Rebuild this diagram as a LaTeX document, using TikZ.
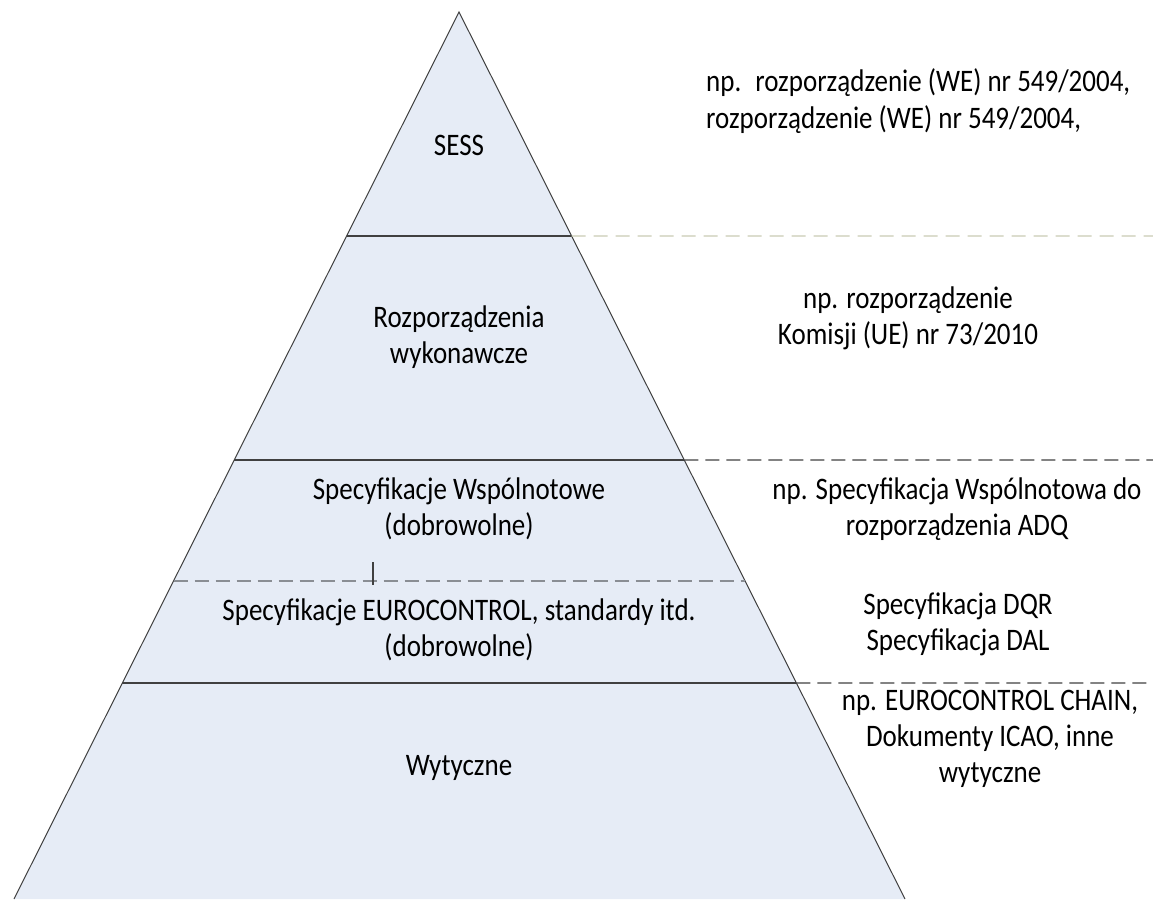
\documentclass[tikz,border=0pt]{standalone}
\usepackage{fontspec}
\setmainfont{Carlito}
\usetikzlibrary{calc}
\definecolor{pyrfill}{HTML}{E6ECF6}
\definecolor{edgecol}{HTML}{404040}
\definecolor{lightdash}{HTML}{C9CBB4}
\definecolor{greydash}{HTML}{8A8E94}
\tikzset{
  lbl/.style={align=center, inner sep=0pt, yscale=1.16, transform shape, font=\fontsize{27}{31.2}\selectfont},
  lblL/.style={align=left, inner sep=0pt, anchor=west, yscale=1.16, transform shape, font=\fontsize{27}{31.2}\selectfont},
  tier/.style={draw=edgecol, line width=1.4pt},
  darkdash/.style={draw=edgecol, line width=1.4pt, dash pattern=on 14pt off 7pt},
  palecut/.style={draw=lightdash, line width=1.4pt, dash pattern=on 14pt off 8pt},
  greycut/.style={draw=greydash, line width=1.4pt, dash pattern=on 14pt off 7pt},
}
\begin{document}
\begin{tikzpicture}[x=1pt,y=-1pt]
\useasboundingbox (0,0) rectangle (1153,899);
\coordinate (apex) at (459,12);
\coordinate (bl) at (14,899);
\coordinate (br) at (905,899);
\fill[pyrfill] (apex) -- (bl) -- (br) -- cycle;
\draw[edgecol, line width=1pt] (bl) -- (apex) -- (br);
% tier boundaries
\coordinate (l1) at ($(apex)!0.2525!(bl)$); \coordinate (r1) at ($(apex)!0.2525!(br)$);
\coordinate (l2) at ($(apex)!0.5051!(bl)$); \coordinate (r2) at ($(apex)!0.5051!(br)$);
\coordinate (l3) at ($(apex)!0.6415!(bl)$); \coordinate (r3) at ($(apex)!0.6415!(br)$);
\coordinate (l4) at ($(apex)!0.7565!(bl)$); \coordinate (r4) at ($(apex)!0.7565!(br)$);
\coordinate (e1) at (1153,236);
\coordinate (e2) at (1153,460);
\coordinate (e4) at (1153,683);
\draw[tier] (l1) -- (r1);
\draw[palecut] (r1) -- (e1);
\draw[tier] (l2) -- (r2);
\draw[darkdash] (r2) -- (e2);
\draw[greycut] (l3) -- (r3);
\draw[tier] (l4) -- (r4);
\draw[darkdash] (r4) -- (e4);
% short tick
\coordinate (tickTop) at (373,562);
\coordinate (tickBot) at (373,585);
\draw[edgecol, line width=1.2pt] (tickTop) -- (tickBot);
% pyramid labels
\node[lbl] (sess) at (459,145) {SESS};
\node[lbl] (rozp) at (459,337) {Rozporządzenia\\wykonawcze};
\node[lbl] (specw) at (459,509) {Specyfikacje Wspólnotowe\\(dobrowolne)};
\node[lbl] (spece) at (459,630) {Specyfikacje EUROCONTROL, standardy itd.\\(dobrowolne)};
\node[lbl] (wyt) at (459,768) {Wytyczne};
% right labels
\node[lblL] (ex1) at (706,101) {np.\hspace{14pt}rozporządzenie (WE) nr 549/2004,\\rozporządzenie (WE) nr 549/2004,};
\node[lbl] (ex2) at (908,318) {np. rozporządzenie\\Komisji (UE) nr 73/2010};
\node[lbl] (ex3) at (957,509) {np. Specyfikacja Wspólnotowa do\\rozporządzenia ADQ};
\node[lbl] (ex4) at (958,624) {Specyfikacja DQR\\Specyfikacja DAL};
\node[lbl] (ex5) at (990,739) {np. EUROCONTROL CHAIN,\\Dokumenty ICAO, inne\\wytyczne};
\end{tikzpicture}
\end{document}
